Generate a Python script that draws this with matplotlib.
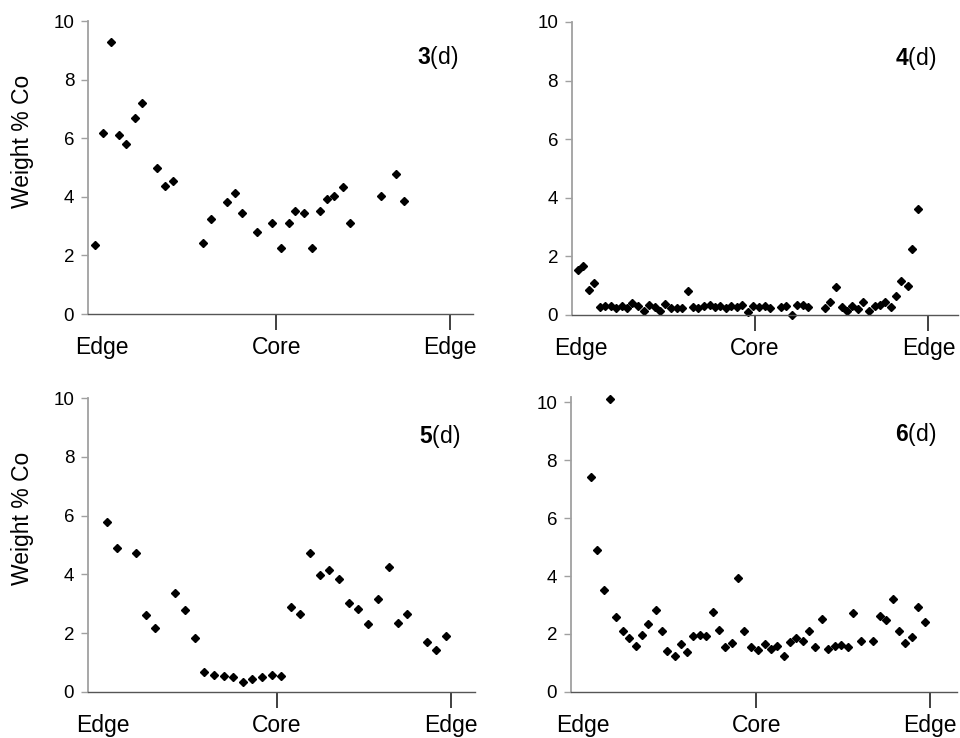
import matplotlib.pyplot as plt

plt.rcParams['font.family'] = ['Liberation Sans', 'DejaVu Sans']
plt.rcParams['mathtext.fontset'] = 'custom'
plt.rcParams['mathtext.rm'] = 'Liberation Sans'
plt.rcParams['mathtext.bf'] = 'Liberation Sans:bold'

# x: position along the traverse (0 = edge, 1 = core, 2 = edge)
x3 = [-0.040, 0.008, 0.050, 0.098, 0.140, 0.188, 0.230, 0.318, 0.360, 0.410,
      0.582, 0.628, 0.718, 0.761, 0.803, 0.891, 0.979, 1.027, 1.071, 1.111,
      1.159, 1.203, 1.249, 1.291, 1.333, 1.381, 1.423, 1.602, 1.690, 1.732]
co3 = [2.34, 6.19, 9.28, 6.11, 5.82, 6.69, 7.21, 4.97, 4.38, 4.54,
       2.42, 3.25, 3.83, 4.14, 3.44, 2.81, 3.09, 2.26, 3.09, 3.52,
       3.44, 2.26, 3.52, 3.94, 4.03, 4.34, 3.09, 4.03, 4.77, 3.86]

x4 = [-0.017, 0.011, 0.046, 0.075, 0.107, 0.138, 0.169, 0.201, 0.232, 0.262,
      0.293, 0.326, 0.362, 0.389, 0.423, 0.452, 0.485, 0.519, 0.550, 0.582,
      0.613, 0.644, 0.674, 0.705, 0.739, 0.770, 0.801, 0.831, 0.862, 0.897,
      0.927, 0.962, 0.992, 1.023, 1.057, 1.088, 1.149, 1.180, 1.213, 1.243,
      1.276, 1.307, 1.402, 1.435, 1.467, 1.500, 1.529, 1.559, 1.592, 1.625,
      1.659, 1.690, 1.720, 1.751, 1.782, 1.816, 1.845, 1.881, 1.908, 1.939]
co4 = [1.55, 1.66, 0.84, 1.09, 0.27, 0.32, 0.32, 0.24, 0.32, 0.24,
       0.41, 0.32, 0.13, 0.35, 0.27, 0.15, 0.39, 0.24, 0.24, 0.24,
       0.83, 0.27, 0.24, 0.32, 0.35, 0.27, 0.32, 0.24, 0.30, 0.27,
       0.35, 0.10, 0.32, 0.27, 0.32, 0.24, 0.27, 0.32, 0.00, 0.35,
       0.35, 0.27, 0.24, 0.43, 0.95, 0.27, 0.15, 0.32, 0.20, 0.43,
       0.15, 0.32, 0.35, 0.43, 0.27, 0.66, 1.15, 0.98, 2.25, 3.61]

x5 = [0.025, 0.081, 0.192, 0.246, 0.301, 0.413, 0.474, 0.528, 0.583, 0.639,
      0.695, 0.750, 0.804, 0.860, 0.916, 0.971, 1.025, 1.081, 1.136, 1.192,
      1.247, 1.303, 1.359, 1.415, 1.470, 1.526, 1.585, 1.643, 1.697, 1.752,
      1.862, 1.917, 1.973]
co5 = [5.80, 4.89, 4.74, 2.61, 2.18, 3.36, 2.78, 1.83, 0.69, 0.58,
       0.55, 0.51, 0.33, 0.45, 0.49, 0.58, 0.55, 2.89, 2.65, 4.74,
       3.99, 4.15, 3.83, 3.01, 2.81, 2.31, 3.17, 4.26, 2.33, 2.65,
       1.70, 1.43, 1.91]

x6 = [0.046, 0.081, 0.123, 0.155, 0.192, 0.232, 0.267, 0.309, 0.344, 0.378,
      0.420, 0.455, 0.488, 0.530, 0.564, 0.599, 0.637, 0.676, 0.710, 0.750,
      0.785, 0.821, 0.862, 0.896, 0.931, 0.969, 1.008, 1.048, 1.083, 1.119,
      1.159, 1.194, 1.228, 1.267, 1.303, 1.340, 1.380, 1.415, 1.451, 1.489,
      1.526, 1.559, 1.603, 1.670, 1.710, 1.749, 1.787, 1.821, 1.858, 1.898,
      1.933, 1.973]
co6 = [7.44, 4.89, 3.53, 10.13, 2.57, 2.10, 1.85, 1.59, 1.98, 2.33,
       2.82, 2.10, 1.41, 1.25, 1.67, 1.37, 1.94, 1.98, 1.94, 2.77,
       2.14, 1.54, 1.70, 3.92, 2.10, 1.54, 1.46, 1.67, 1.49, 1.59,
       1.23, 1.74, 1.85, 1.77, 2.10, 1.54, 2.53, 1.49, 1.57, 1.62,
       1.54, 2.74, 1.77, 1.77, 2.61, 2.49, 3.21, 2.10, 1.70, 1.90,
       2.93, 2.41]

tick_pos = [0, 1, 2]
tick_labels = ['Edge', 'Core', 'Edge']
yticks = [0, 2, 4, 6, 8, 10]

panels = [
    # rect, xlim, ylim, x, y, label, label pos, ylabel?
    ([0.0917, 0.5745, 0.401, 0.397], (-0.08, 2.13), (0, 10), x3, co3, r'$\mathbf{3}$(d)', 0.855, 0.877, True),
    ([0.5958, 0.5732, 0.402, 0.397], (-0.054, 2.17), (0, 10), x4, co4, r'$\mathbf{4}$(d)', 0.837, 0.877, False),
    ([0.0917, 0.0625, 0.403, 0.398], (-0.086, 2.14), (0, 10), x5, co5, r'$\mathbf{5}$(d)', 0.855, 0.871, True),
    ([0.5948, 0.0625, 0.402, 0.400], (-0.067, 2.156), (0, 10.2), x6, co6, r'$\mathbf{6}$(d)', 0.84, 0.872, False),
]

fig = plt.figure(figsize=(9.6, 7.38), dpi=100)

for rect, xl, yl, xs, ys, lab, lx, ly, show_ylabel in panels:
    ax = fig.add_axes(rect)
    ax.plot(xs, ys, linestyle='none', marker='D', markersize=4.4,
            color='black', clip_on=False)
    ax.set_xlim(*xl)
    ax.set_ylim(*yl)

    for side in ['top', 'right']:
        ax.spines[side].set_visible(False)
    ax.spines['left'].set_color('#a0a0a0')
    ax.spines['left'].set_linewidth(1.3)
    ax.spines['bottom'].set_color('#555555')
    ax.spines['bottom'].set_linewidth(1.0)

    ax.set_yticks(yticks)
    ax.set_yticklabels([str(v) for v in yticks])
    ax.tick_params(axis='y', direction='out', length=5, width=1.0,
                   color='#a0a0a0', labelsize=13.5, pad=5)

    # Core and right Edge get ticks, left Edge is only a label
    ax.set_xticks(tick_pos[1:])
    ax.set_xticklabels(tick_labels[1:])
    ax.set_xticks(tick_pos[:1], minor=True)
    ax.set_xticklabels(tick_labels[:1], minor=True)
    ax.tick_params(axis='x', which='major', direction='out', length=11.5,
                   width=1.4, color='#404040', labelsize=16.5, pad=4.5)
    ax.tick_params(axis='x', which='minor', length=0, labelsize=16.5, pad=16)

    ax.text(lx, ly, lab, transform=ax.transAxes, fontsize=16.5,
            ha='left', va='center')

    if show_ylabel:
        ax.set_ylabel('Weight % Co', fontsize=16.5)
        ax.yaxis.set_label_coords(-0.14, 0.59)

fig.savefig('out.png', dpi=100)
